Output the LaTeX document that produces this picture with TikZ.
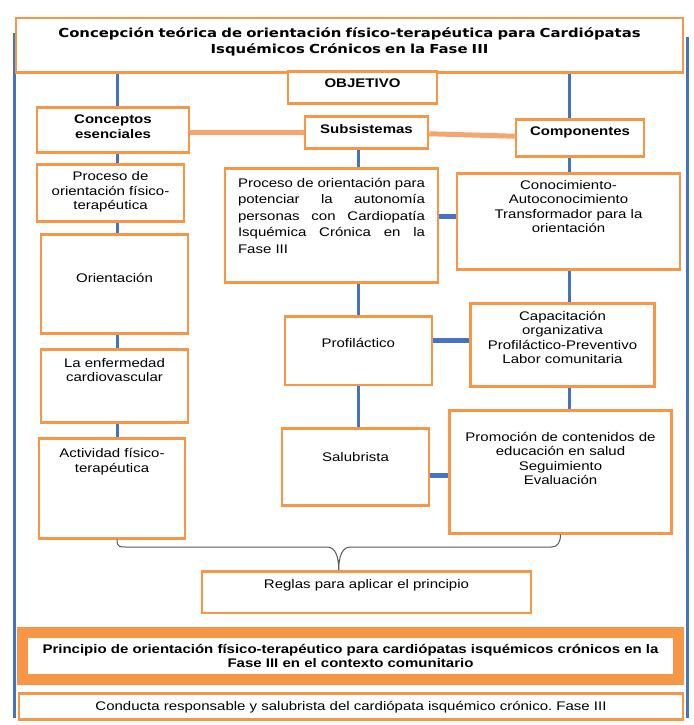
\documentclass[tikz,border=0pt]{standalone}
\usepackage{fontspec}
\setmainfont{Liberation Sans}[FakeStretch=1.2]
\newfontfamily\headfont{DejaVu Sans}[FakeStretch=1.2]
\usetikzlibrary{positioning,calc,backgrounds}
\definecolor{Frame}{HTML}{F79646}
\definecolor{Link}{HTML}{F4A66E}
\definecolor{Spine}{HTML}{4472C4}
\definecolor{Brace}{HTML}{595959}
\newcommand\boxfont{\fontsize{12.5}{14.5}\selectfont}
\tikzset{box/.style={draw=Frame,line width=2.5pt,fill=white,anchor=north,
    align=center,inner xsep=4pt,inner ysep=0pt,font=\boxfont},
  headbox/.style={box,font=\boxfont\bfseries},
  spine/.style={draw=Spine,line width=3pt},
  tie/.style={draw=Spine,line width=5pt},
  linkedge/.style={draw=Link,line width=5pt},
  bracket/.style={draw=Brace,line width=1pt}}
\frenchspacing

\begin{document}
\begin{tikzpicture}[x=1pt,y=-1pt]
  \useasboundingbox (0,0) rectangle (693,725);
  % top row
  \node[box,text width=659pt,text height=19.5pt,text depth=34.5pt,
    font=\headfont\fontsize{12.4}{15.5}\selectfont\bfseries] (title) at (349.5,17)
    {Concepción teórica de orientación físico-terapéutica para Cardiópatas\\Isquémicos Crónicos en la Fase III};
  \node[headbox,text width=141pt,text height=16.5pt,text depth=15.5pt] (objetivo) at (362.5,70) {OBJETIVO};
  \node[headbox,text width=144pt,text height=16.5pt,text depth=28.5pt] (concep) at (113,106) {Conceptos\\esenciales};
  \node[headbox,text width=115pt,text height=17.5pt,text depth=14.5pt] (subs) at (366.5,115) {Subsistemas};
  \node[headbox,text width=120pt,text height=16.5pt,text depth=20.5pt] (comp) at (580,118) {Componentes};
  % left column
  \node[box,text width=139pt,text height=16.5pt,text depth=40.5pt] (proc1) at (110.5,163) {Proceso de\\orientación físico-\\terapéutica};
  \node[box,text width=139pt,text height=48.5pt,text depth=50.5pt] (orient) at (114.5,233) {Orientación};
  \node[box,text width=139pt,text height=18pt,text depth=55pt] (enferm) at (114.5,348) {La enfermedad\\cardiovascular};
  \node[box,text width=138pt,text height=19.5pt,text depth=80.5pt] (activ) at (112,437) {Actividad físico-\\terapéutica};
  % middle column
  \node[box,align=justify,inner xsep=13pt,text width=187pt,text height=19pt,text depth=95pt,
    font=\fontsize{12.5}{16.5}\selectfont] (proc2) at (331.5,167)
    {Proceso de orientación para\linebreak potenciar la autonomía\linebreak personas con Cardiopatía\linebreak Isquémica Crónica en la\linebreak Fase III};
  \node[box,text width=139pt,text height=31pt,text depth=37.5pt] (profil) at (358.3,315) {Profiláctico};
  \node[box,text width=139pt,text height=33pt,text depth=44pt] (salub) at (355.5,427) {Salubrista};
  % right column
  \node[box,text width=215pt,text height=16pt,text depth=80pt] (conoc) at (568.5,172) {Conocimiento-\\Autoconocimiento\\Transformador para la\\orientación};
  \node[box,text width=176pt,text height=17pt,text depth=66pt] (capac) at (562.5,302) {Capacitación\\organizativa\\Profiláctico-Preventivo\\Labor comunitaria};
  \node[box,text width=214pt,text height=31pt,text depth=92pt] (promo) at (560.5,409) {Promoción de contenidos de\\educación en salud\\Seguimiento\\Evaluación};
  % bottom
  \node[box,text width=321pt,text height=17pt,text depth=24.5pt] (reglas) at (366.5,570) {Reglas para aplicar el principio};
  \node[headbox,line width=10.5pt,inner xsep=8pt,text width=640pt,text height=21pt,text depth=26pt] (princ) at (350.5,627)
    {Principio de orientación físico-terapéutico para cardiópatas isquémicos crónicos en la\\Fase III en el contexto comunitario};
  \node[box,text width=656pt,text height=17.5pt,text depth=8.5pt] (conduct) at (351,692)
    {Conducta responsable y salubrista del cardiópata isquémico crónico. Fase III};

  \coordinate (lcol) at (117,0);
  \coordinate (mcol) at (358.3,0);
  \coordinate (rcol) at (569.3,0);
  \coordinate (ltop) at (14,33);
  \coordinate (lbot) at (14,718);
  \coordinate (rtop) at (687,37);
  \coordinate (rbot) at (687,718);
  \coordinate (t1) at ([yshift=9pt]proc2.east);
  \coordinate (t2) at ([yshift=10.25pt]profil.east);
  \coordinate (t3) at ([yshift=-8.5pt]salub.east);

  \begin{scope}[on background layer]
    \draw[spine] (ltop) -- (lbot);
    \draw[spine] (rtop) -- (rbot);
    \foreach \a/\b in {title/concep,concep/proc1,proc1/orient,orient/enferm,enferm/activ}
      \draw[spine] (\a.south -| lcol) -- (\b.north -| lcol);
    \foreach \a/\b in {subs/proc2,proc2/profil,profil/salub}
      \draw[spine] (\a.south -| mcol) -- (\b.north -| mcol);
    \foreach \a/\b in {title/comp,comp/conoc,conoc/capac,capac/promo}
      \draw[spine] (\a.south -| rcol) -- (\b.north -| rcol);
    \draw[tie] (t1) -- (t1 -| conoc.west);
    \draw[tie] (t2) -- (t2 -| capac.west);
    \draw[tie] (t3) -- (t3 -| promo.west);
    \draw[linkedge] (concep.east |- subs.west) -- (subs.west);
    \draw[linkedge] ([yshift=-1.5pt]subs.east) -- ([yshift=1.5pt]comp.west);
  \end{scope}

  % brace over the three columns
  \coordinate (bl) at (activ.south -| lcol);
  \coordinate (bm) at ($(bl)!.5!(promo.south)$);
  \coordinate (tip) at (bm |- reglas.north);
  \coordinate (bar) at ($(tip)+(0,-23)$);
  \draw[bracket] (bl) .. controls +(0,8) and +(-6,0) .. ($(bl |- bar)+(9,0)$)
    -- ($(bar)+(-12,0)$) .. controls +(9,0) and +(0,-13) .. (tip)
    .. controls +(0,-13) and +(-9,0) .. ($(bar)+(12,0)$)
    -- ($(promo.south |- bar)+(-9,0)$) .. controls +(6,0) and +(0,8) .. (promo.south);
\end{tikzpicture}
\end{document}
